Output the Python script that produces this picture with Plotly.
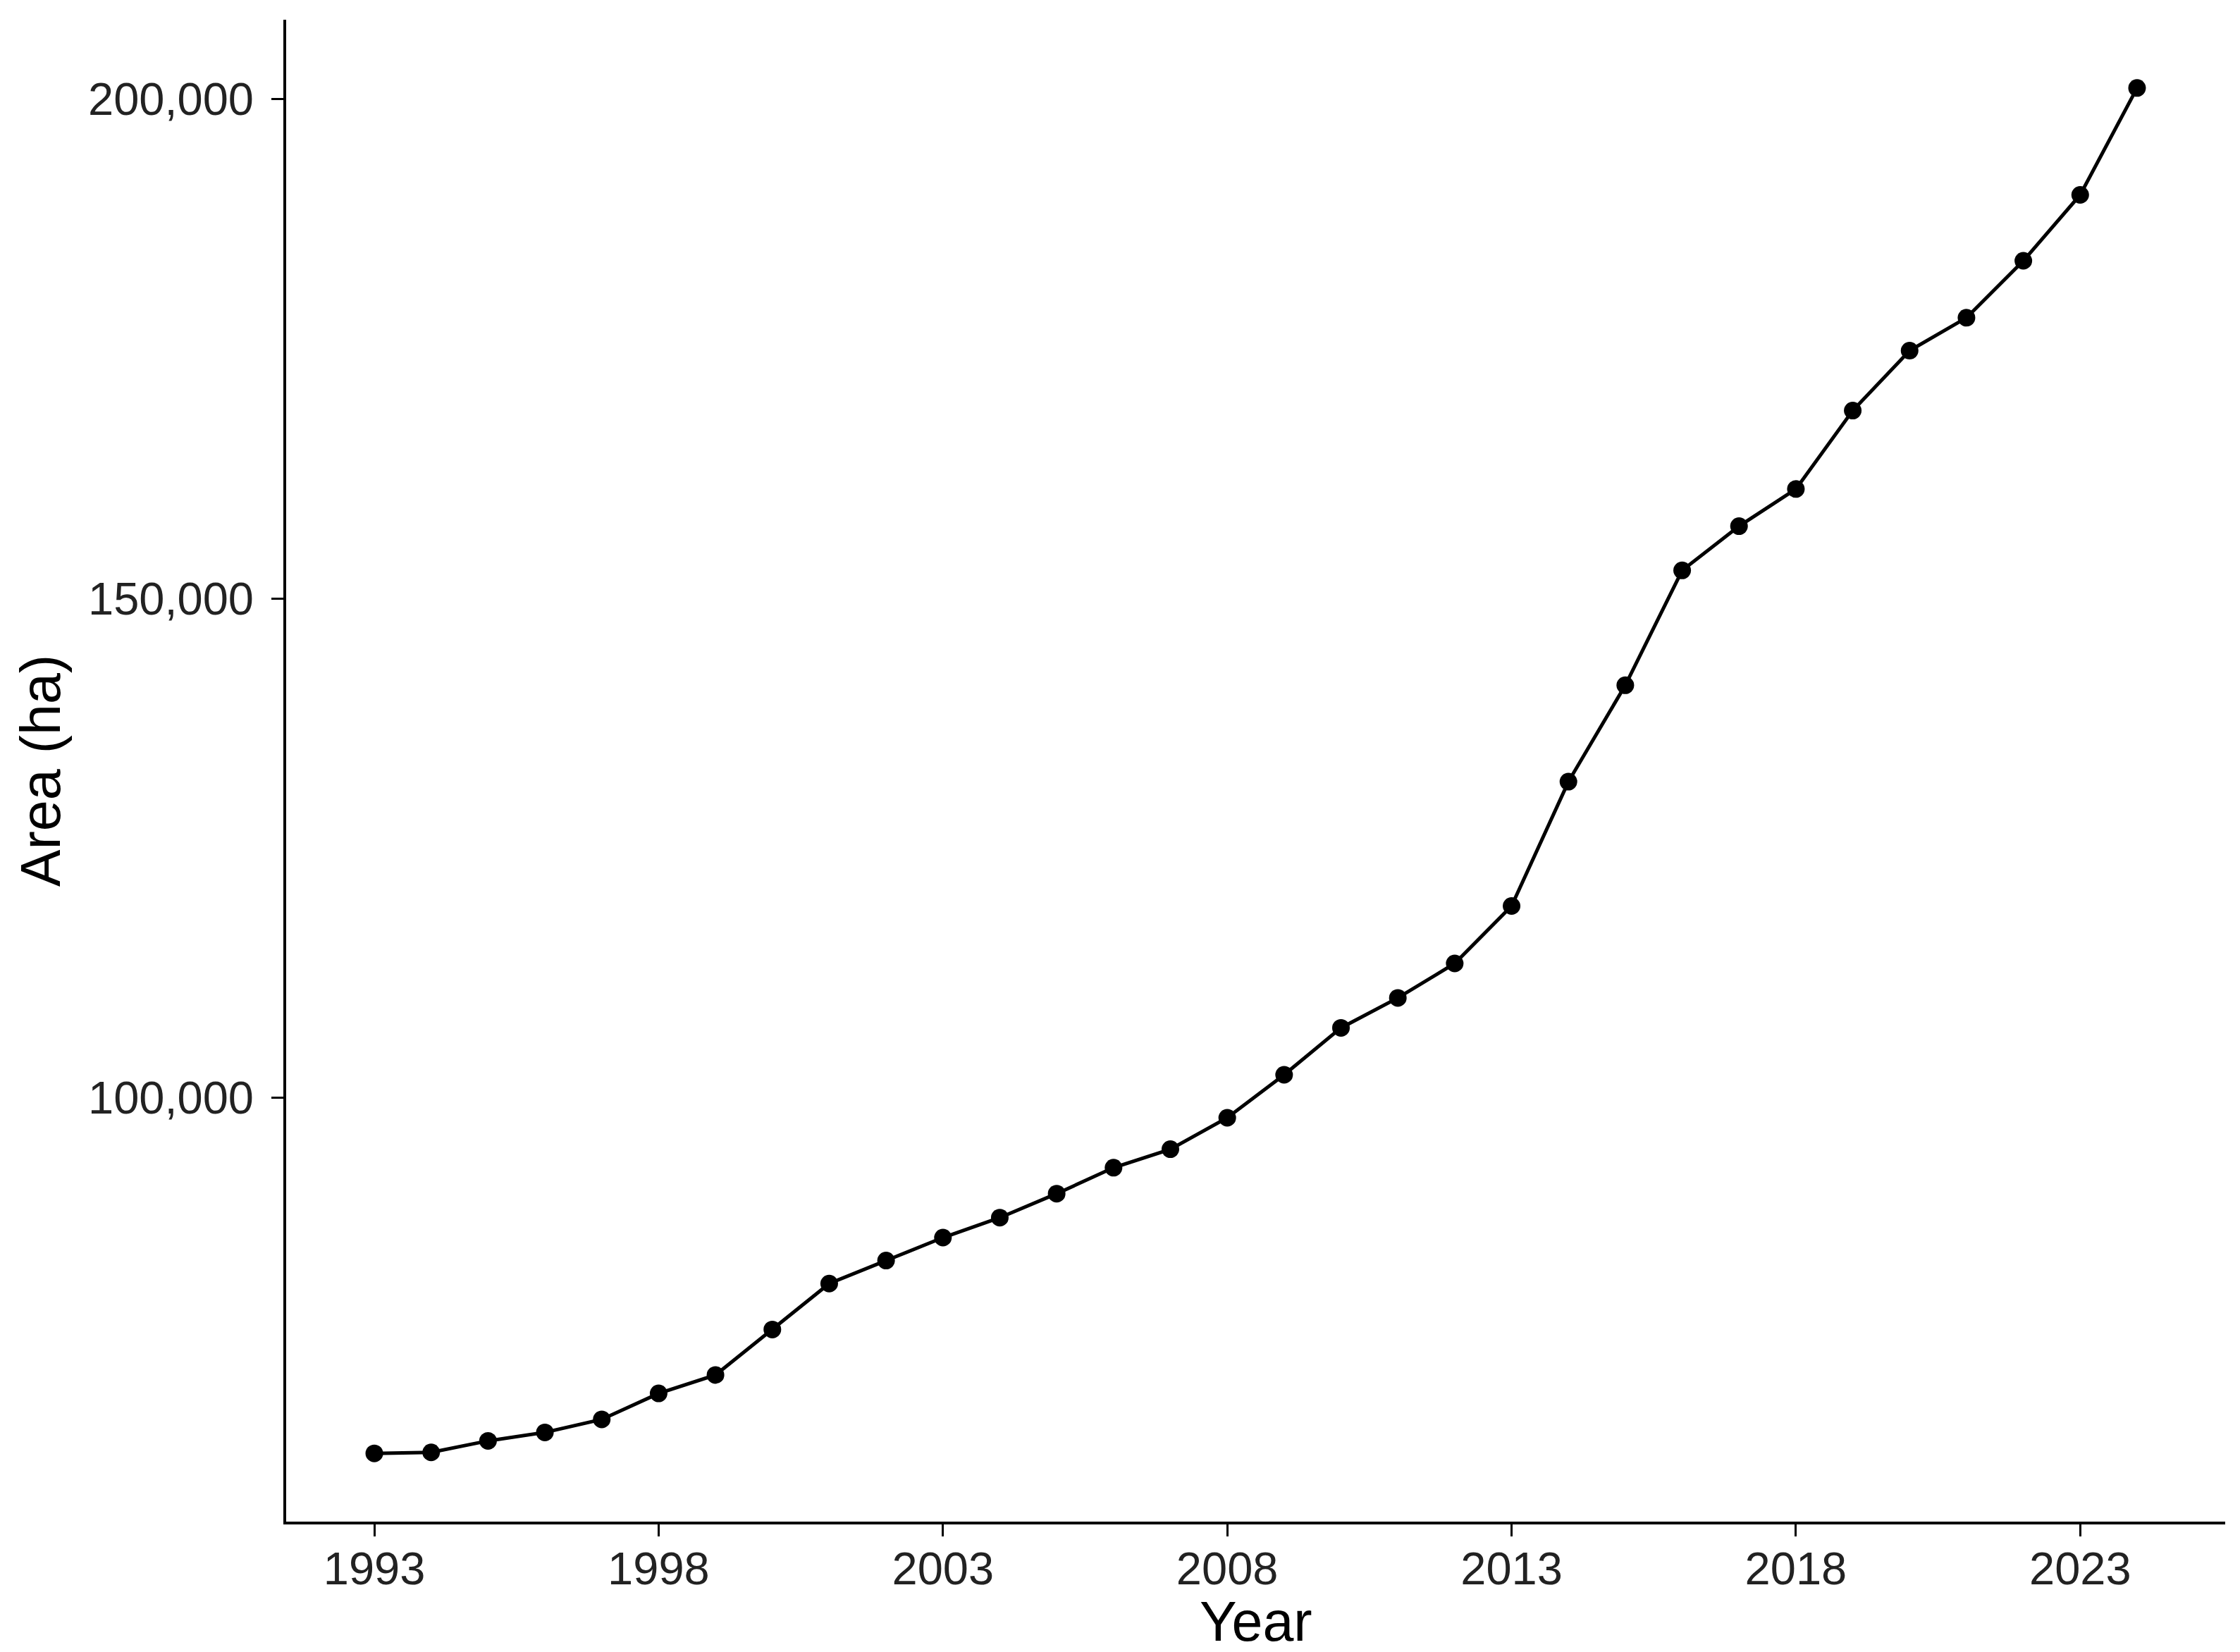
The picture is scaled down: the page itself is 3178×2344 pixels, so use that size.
import plotly.graph_objects as go

years = list(range(1993, 2025))
area_ha = [64400, 64500, 65650, 66500, 67800, 70400, 72250, 76800, 81400, 83700,
           86000, 88000, 90400, 93000, 94850, 98000, 102300, 107000, 110000, 113450,
           119200, 131650, 141300, 152800, 157230, 160950, 168800, 174800, 178100, 183800,
           190400, 201100]
x_ticks = [1993, 1998, 2003, 2008, 2013, 2018, 2023]
y_ticks = [100000, 150000, 200000]
y_tick_labels = ["100,000", "150,000", "200,000"]
x_title = "Year"
y_title = "Area (ha)"

# ggplot-like 5% expansion
xmin, xmax = min(years), max(years)
ymin, ymax = min(area_ha), max(area_ha)
xpad = (xmax - xmin) * 0.05
ypad = (ymax - ymin) * 0.05

fig = go.Figure(go.Scatter(
    x=years, y=area_ha, mode="lines+markers",
    line=dict(color="black", width=5),
    marker=dict(color="black", size=25),
    showlegend=False,
))

font_family = "Liberation Sans, Arial, sans-serif"
fig.update_layout(
    width=3178, height=2344,
    paper_bgcolor="white", plot_bgcolor="white",
    margin=dict(l=398, r=29, t=20, b=193),
    font=dict(family=font_family, color="black"),
)
fig.update_xaxes(
    range=[xmin - xpad, xmax + xpad],
    tickvals=x_ticks, ticktext=[str(v) for v in x_ticks],
    showgrid=False, zeroline=False,
    showline=True, linecolor="black", linewidth=4,
    ticks="outside", ticklen=17, tickwidth=3, tickcolor="black",
    tickfont=dict(size=65, color="#222222"),
    ticklabelstandoff=-10,
)
fig.update_yaxes(
    range=[ymin - ypad, ymax + ypad],
    tickvals=y_ticks, ticktext=y_tick_labels,
    showgrid=False, zeroline=False,
    showline=True, linecolor="black", linewidth=4,
    ticks="outside", ticklen=17, tickwidth=3, tickcolor="black",
    tickfont=dict(size=65, color="#222222"),
    ticklabelstandoff=12,
    title=dict(text=y_title, font=dict(size=79, color="black"), standoff=14),
)
fig.add_annotation(
    text=x_title, xref="paper", yref="paper", x=0.5, y=0,
    xanchor="center", yanchor="bottom", yshift=-188,
    showarrow=False, font=dict(size=79, color="black", family=font_family),
)

fig.write_html("out.html")
